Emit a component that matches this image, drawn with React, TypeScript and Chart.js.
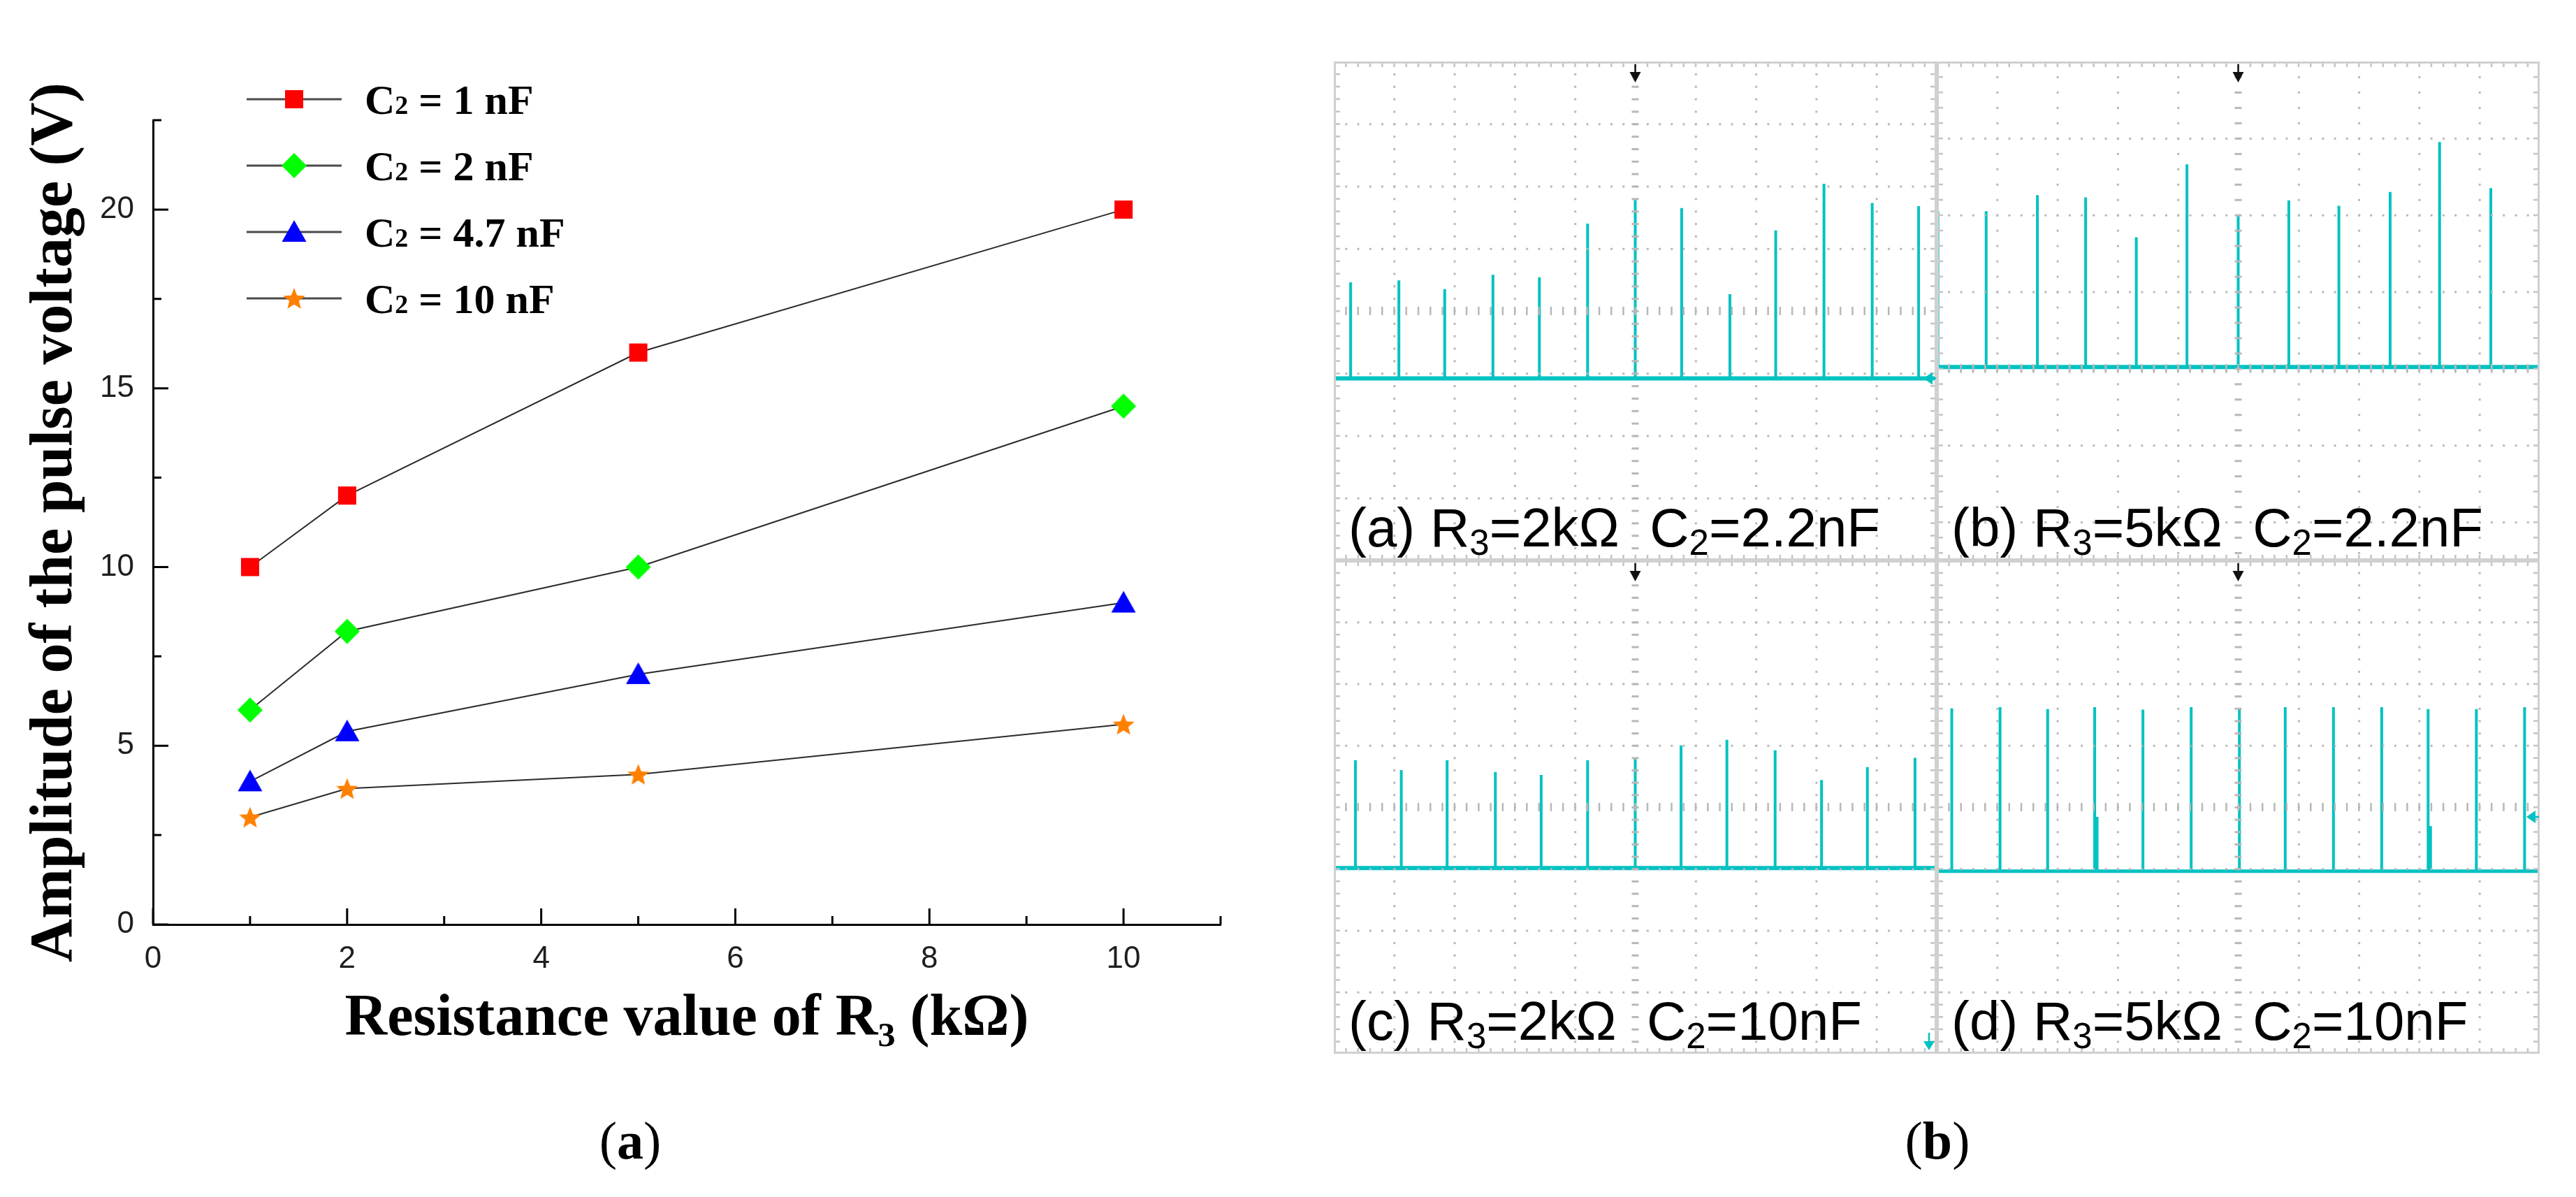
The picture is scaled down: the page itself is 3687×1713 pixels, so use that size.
import React, { useEffect, useRef } from 'react';
import { Chart, registerables } from 'chart.js';

Chart.register(...registerables);

// ---------------- (a) amplitude vs. resistance ----------------
const resistanceKOhm = [1, 2, 5, 10];
const ampC2_1nF = [10, 12, 16, 20];
const ampC2_2nF = [6, 8.2, 10, 14.5];
const ampC2_4p7nF = [4, 5.4, 7, 9];
const ampC2_10nF = [3, 3.8, 4.2, 5.6];
const seriesCapacitance = ['1 nF', '2 nF', '4.7 nF', '10 nF'];
const seriesColors = ['#FF0000', '#00FF00', '#0000FF', '#FF8000'];
const seriesMarkers = ['rect', 'rectRot', 'triangle', 'star'];
const xMajorTicks = [0, 2, 4, 6, 8, 10];
const xMinorTicks = [1, 3, 5, 7, 9, 11];
const yMajorTicks = [0, 5, 10, 15, 20];
const yMinorTicks = [2.5, 7.5, 12.5, 17.5, 22.5];
const xAxisTitle = 'Resistance value of R₃ (kΩ)';
const yAxisTitle = 'Amplitude of the pulse voltage (V)';

// ---------------- (b) oscilloscope captures (units: screen divisions) ----------------
const timesA = [0.28, 1.08, 1.84, 2.64, 3.41, 4.21, 5.0, 5.77, 6.57, 7.33, 8.13, 8.93, 9.7];
const peaksA = [4.46, 4.49, 4.35, 4.58, 4.54, 5.4, 5.78, 5.65, 4.27, 5.29, 6.04, 5.73, 5.68];
const baseA = 2.92;
const labelA = ['(a) R', '3', '=2kΩ  C', '2', '=2.2nF'];

const timesB = [0.02, 0.82, 1.67, 2.47, 3.31, 4.15, 5.0, 5.84, 6.67, 7.52, 8.34, 9.19];
const peaksB = [4.55, 4.55, 4.76, 4.73, 4.21, 5.16, 4.49, 4.69, 4.62, 4.8, 5.45, 4.85];
const baseB = 2.52;
const labelB = ['(b) R', '3', '=5kΩ  C', '2', '=2.2nF'];

const timesC = [0.36, 1.12, 1.88, 2.68, 3.44, 4.21, 5.0, 5.76, 6.52, 7.32, 8.09, 8.85, 9.64];
const peaksC = [4.76, 4.6, 4.76, 4.57, 4.52, 4.76, 4.78, 5.0, 5.09, 4.92, 4.44, 4.65, 4.8];
const baseC = 3.01;
const labelC = ['(c) R', '3', '=2kΩ  C', '2', '=10nF'];

const timesD = [0.25, 1.05, 1.84, 2.62, 2.66, 3.42, 4.22, 5.02, 5.78, 6.58, 7.38, 8.15, 8.19, 8.95, 9.75];
const peaksD = [5.6, 5.62, 5.59, 5.62, 3.84, 5.58, 5.62, 5.6, 5.62, 5.62, 5.62, 5.59, 3.69, 5.59, 5.62];
const baseD = 2.96;
const labelD = ['(d) R', '3', '=5kΩ  C', '2', '=10nF'];

const CYAN = '#00C2C2';

function drawMarkerShape(g: CanvasRenderingContext2D, style: string, x: number, y: number, color: string) {
  g.fillStyle = color;
  g.beginPath();
  if (style === 'rect') {
    g.rect(x - 13, y - 13, 26, 26);
  } else if (style === 'rectRot') {
    g.moveTo(x, y - 18);
    g.lineTo(x + 18, y);
    g.lineTo(x, y + 18);
    g.lineTo(x - 18, y);
    g.closePath();
  } else if (style === 'triangle') {
    g.moveTo(x, y - 17);
    g.lineTo(x + 17.5, y + 14);
    g.lineTo(x - 17.5, y + 14);
    g.closePath();
  } else {
    const R = 16.5;
    const r = 7.2;
    for (let k = 0; k < 10; k++) {
      const ang = -Math.PI / 2 + (k * Math.PI) / 5;
      const rad = k % 2 === 0 ? R : r;
      const px = x + rad * Math.cos(ang);
      const py = y + 1.5 + rad * Math.sin(ang);
      if (k === 0) g.moveTo(px, py);
      else g.lineTo(px, py);
    }
    g.closePath();
  }
  g.fill();
}

function makeMarkerCanvas(style: string, color: string): HTMLCanvasElement {
  const c = document.createElement('canvas');
  c.width = 44;
  c.height = 44;
  const g = c.getContext('2d')!;
  drawMarkerShape(g, style, 22, 22, color);
  return c;
}

const inwardTicksPlugin = {
  id: 'inwardTicks',
  afterDatasetsDraw(chart: any) {
    const { ctx, chartArea } = chart;
    const xs = chart.scales.x;
    const ys = chart.scales.y;
    ctx.save();
    ctx.strokeStyle = '#000';
    ctx.lineWidth = 3;
    ctx.beginPath();
    xMajorTicks.forEach((v) => {
      const px = xs.getPixelForValue(v);
      ctx.moveTo(px, chartArea.bottom);
      ctx.lineTo(px, chartArea.bottom - 23);
    });
    xMinorTicks.forEach((v) => {
      const px = xs.getPixelForValue(v);
      ctx.moveTo(px, chartArea.bottom);
      ctx.lineTo(px, chartArea.bottom - 12);
    });
    yMajorTicks.forEach((v) => {
      const py = ys.getPixelForValue(v);
      ctx.moveTo(chartArea.left, py);
      ctx.lineTo(chartArea.left + 22, py);
    });
    yMinorTicks.forEach((v) => {
      const py = ys.getPixelForValue(v);
      ctx.moveTo(chartArea.left, py);
      ctx.lineTo(chartArea.left + 12, py);
    });
    ctx.stroke();
    ctx.restore();
  },
};

const legendPlugin = {
  id: 'lineLegend',
  afterDraw(chart: any) {
    const ctx = chart.ctx;
    const x0 = 353;
    const x1 = 489;
    const mx = 421;
    const tx = 522;
    const y0 = 142;
    const dy = 95;
    chart.data.datasets.forEach((ds: any, i: number) => {
      const y = y0 + i * dy;
      ctx.save();
      ctx.strokeStyle = '#4a4a4a';
      ctx.lineWidth = 3;
      ctx.beginPath();
      ctx.moveTo(x0, y);
      ctx.lineTo(x1, y);
      ctx.stroke();
      const img = ds.pointStyle as HTMLCanvasElement;
      ctx.drawImage(img, mx - img.width / 2, y - img.height / 2);
      ctx.fillStyle = '#000';
      ctx.textAlign = 'left';
      ctx.textBaseline = 'alphabetic';
      const base = y + 21;
      ctx.font = 'bold 60px "Liberation Serif"';
      ctx.fillText('C', tx, base);
      let x = tx + ctx.measureText('C').width;
      ctx.font = 'bold 38px "Liberation Serif"';
      ctx.fillText('2', x, base);
      x += ctx.measureText('2').width;
      ctx.font = 'bold 60px "Liberation Serif"';
      ctx.fillText(' = ' + seriesCapacitance[i], x, base);
      ctx.restore();
    });
  },
};

function AmplitudeChart() {
  const ref = useRef<HTMLCanvasElement>(null);
  useEffect(() => {
    const canvas = ref.current!;
    const markers = seriesMarkers.map((m, i) => makeMarkerCanvas(m, seriesColors[i]));
    const values = [ampC2_1nF, ampC2_2nF, ampC2_4p7nF, ampC2_10nF];
    const chart = new Chart(canvas, {
      type: 'line',
      data: {
        datasets: values.map((vals, i) => ({
          label: 'C₂ = ' + seriesCapacitance[i],
          data: resistanceKOhm.map((x, j) => ({ x, y: vals[j] })),
          borderColor: '#2b2b2b',
          borderWidth: 2,
          pointStyle: markers[i] as any,
          pointRadius: 18,
          tension: 0,
        })),
      },
      options: {
        animation: false,
        responsive: false,
        devicePixelRatio: 1,
        events: [],
        layout: { padding: { top: 172, right: 113, left: 0, bottom: 0 } },
        plugins: { legend: { display: false }, tooltip: { enabled: false } },
        scales: {
          x: {
            type: 'linear',
            min: 0,
            max: 11,
            afterBuildTicks: (s: any) => {
              s.ticks = xMajorTicks.map((v) => ({ value: v }));
            },
            afterFit: (s: any) => {
              s.height = 237;
            },
            grid: { display: false, drawTicks: false },
            border: { display: true, color: '#000', width: 3 },
            ticks: {
              font: { family: 'Liberation Sans', size: 44 },
              color: '#1e1e1e',
              padding: 23,
              maxRotation: 0,
              autoSkip: false,
            },
            title: {
              display: true,
              text: xAxisTitle,
              font: { family: 'Liberation Serif', size: 84, weight: 'bold' },
              color: '#000',
              padding: { top: 0, bottom: 50 },
            },
          },
          y: {
            type: 'linear',
            min: 0,
            max: 22.5,
            afterBuildTicks: (s: any) => {
              s.ticks = yMajorTicks.map((v) => ({ value: v }));
            },
            afterFit: (s: any) => {
              s.width = 219;
            },
            grid: { display: false, drawTicks: false },
            border: { display: true, color: '#000', width: 3 },
            ticks: {
              font: { family: 'Liberation Sans', size: 44 },
              color: '#1e1e1e',
              padding: 27,
            },
            title: {
              display: true,
              text: yAxisTitle,
              font: { family: 'Liberation Serif', size: 86, weight: 'bold' },
              color: '#000',
              padding: { top: 28, bottom: 0 },
            },
          },
        },
      } as any,
      plugins: [inwardTicksPlugin, legendPlugin],
    });
    return () => chart.destroy();
  }, []);
  return (
    <canvas
      ref={ref}
      width={1860}
      height={1560}
      style={{ position: 'absolute', left: 0, top: 0, width: 1860, height: 1560 }}
    />
  );
}

type PanelCfg = {
  left: number;
  top: number;
  width: number;
  height: number;
  yMax: number;
  times: number[];
  peaks: number[];
  base: number;
  baseWidth: number;
  label: string[];
  levelArrow?: number;
  downArrow?: boolean;
};

function makeScopePlugin(cfg: PanelCfg) {
  return {
    id: 'scopeDecor',
    afterDatasetsDraw(chart: any) {
      const { ctx, chartArea } = chart;
      const { left, top, right, bottom } = chartArea;
      const xs = chart.scales.x;
      const ys = chart.scales.y;
      const yMax = cfg.yMax;
      ctx.save();
      // major grid dots
      ctx.fillStyle = '#b8b8b8';
      const centerRow = yMax - 4;
      for (let i = 1; i < 10; i++) {
        const px = xs.getPixelForValue(i);
        for (let j = 1; yMax - j * 0.2 > 0.01; j++) {
          const py = ys.getPixelForValue(yMax - j * 0.2);
          if (i === 5) ctx.fillRect(px - 5, py - 1, 10, 3);
          else ctx.fillRect(px - 1, py - 1, 3, 3);
        }
      }
      for (let k = 1; yMax - k > 0.01; k++) {
        const v = yMax - k;
        const py = ys.getPixelForValue(v);
        const isCenter = Math.abs(v - centerRow) < 0.01;
        for (let j = 1; j < 50; j++) {
          const px = xs.getPixelForValue(j * 0.2);
          if (isCenter) ctx.fillRect(px - 1, py - 6, 2.5, 12);
          else ctx.fillRect(px - 1, py - 1, 3, 3);
        }
      }
      if (Math.abs(centerRow - Math.round(centerRow)) > 0.01) {
        const py = ys.getPixelForValue(centerRow);
        for (let j = 1; j < 50; j++) {
          const px = xs.getPixelForValue(j * 0.2);
          ctx.fillRect(px - 1, py - 6, 2.5, 12);
        }
      }
      // border ticks
      ctx.fillStyle = '#c4c4c4';
      for (let j = 1; j < 50; j++) {
        const px = xs.getPixelForValue(j * 0.2);
        ctx.fillRect(px - 1, top, 2.5, 8);
        ctx.fillRect(px - 1, bottom - 8, 2.5, 8);
      }
      for (let j = 1; yMax - j * 0.2 > 0.01; j++) {
        const py = ys.getPixelForValue(yMax - j * 0.2);
        ctx.fillRect(left, py - 1, 9, 2.5);
        ctx.fillRect(right - 9, py - 1, 9, 2.5);
      }
      // border
      ctx.strokeStyle = '#d0d0d0';
      ctx.lineWidth = 3;
      ctx.strokeRect(left + 1.5, top + 1.5, right - left - 3, bottom - top - 3);
      // trigger position arrow
      const cx = xs.getPixelForValue(5);
      ctx.fillStyle = '#111';
      ctx.fillRect(cx - 1.2, top + 4, 2.5, 14);
      ctx.beginPath();
      ctx.moveTo(cx - 8, top + 15);
      ctx.lineTo(cx + 8, top + 15);
      ctx.lineTo(cx, top + 30);
      ctx.closePath();
      ctx.fill();
      // channel markers
      ctx.fillStyle = CYAN;
      if (cfg.levelArrow !== undefined) {
        const py = ys.getPixelForValue(cfg.levelArrow);
        ctx.beginPath();
        ctx.moveTo(right - 6, py - 9);
        ctx.lineTo(right - 6, py + 9);
        ctx.lineTo(right - 19, py);
        ctx.closePath();
        ctx.fill();
        ctx.fillRect(right - 8, py - 1.5, 7, 3);
      }
      if (cfg.downArrow) {
        const px = right - 11;
        ctx.fillRect(px - 1.2, bottom - 30, 2.5, 14);
        ctx.beginPath();
        ctx.moveTo(px - 8, bottom - 18);
        ctx.lineTo(px + 8, bottom - 18);
        ctx.lineTo(px, bottom - 5);
        ctx.closePath();
        ctx.fill();
      }
      // panel caption
      ctx.fillStyle = '#000';
      ctx.textAlign = 'left';
      ctx.textBaseline = 'alphabetic';
      let x = left + 21;
      const baseY = bottom - 20;
      cfg.label.forEach((seg, idx) => {
        const sub = idx % 2 === 1;
        ctx.font = sub ? '51px "Liberation Sans"' : '78px "Liberation Sans"';
        ctx.fillText(seg, x, sub ? baseY + 12 : baseY);
        x += ctx.measureText(seg).width;
      });
      ctx.restore();
    },
  };
}

function ScopePanel({ cfg }: { cfg: PanelCfg }) {
  const ref = useRef<HTMLCanvasElement>(null);
  useEffect(() => {
    const spikePts: any[] = [];
    cfg.times.forEach((t, i) => {
      spikePts.push({ x: t, y: cfg.base }, { x: t, y: cfg.peaks[i] }, { x: t, y: null });
    });
    const chart = new Chart(ref.current!, {
      type: 'line',
      data: {
        datasets: [
          {
            data: [
              { x: 0, y: cfg.base },
              { x: 10, y: cfg.base },
            ],
            borderColor: CYAN,
            borderWidth: cfg.baseWidth,
            pointRadius: 0,
            tension: 0,
          },
          {
            data: spikePts,
            borderColor: CYAN,
            borderWidth: 4,
            pointRadius: 0,
            spanGaps: false,
            tension: 0,
          },
        ],
      },
      options: {
        animation: false,
        responsive: false,
        devicePixelRatio: 1,
        events: [],
        layout: { padding: 0 },
        plugins: { legend: { display: false }, tooltip: { enabled: false } },
        scales: {
          x: { type: 'linear', min: 0, max: 10, display: false },
          y: { type: 'linear', min: 0, max: cfg.yMax, display: false },
        },
      } as any,
      plugins: [makeScopePlugin(cfg)],
    });
    return () => chart.destroy();
  }, []);
  return (
    <canvas
      ref={ref}
      width={cfg.width}
      height={cfg.height}
      style={{ position: 'absolute', left: cfg.left, top: cfg.top, width: cfg.width, height: cfg.height }}
    />
  );
}

const panels: PanelCfg[] = [
  { left: 1909, top: 88, width: 863, height: 714, yMax: 8, times: timesA, peaks: peaksA, base: baseA, baseWidth: 6, label: labelA, levelArrow: baseA },
  { left: 2772, top: 88, width: 863, height: 714, yMax: 6.5, times: timesB, peaks: peaksB, base: baseB, baseWidth: 6, label: labelB },
  { left: 1909, top: 802, width: 863, height: 706, yMax: 8, times: timesC, peaks: peaksC, base: baseC, baseWidth: 6, label: labelC, downArrow: true },
  { left: 2772, top: 802, width: 863, height: 706, yMax: 8, times: timesD, peaks: peaksD, base: baseD, baseWidth: 5, label: labelD, levelArrow: 3.84 },
];

export default function App() {
  return (
    <div
      style={{
        position: 'fixed',
        left: 0,
        top: 0,
        width: 3687,
        height: 1713,
        background: '#fff',
        overflow: 'hidden',
      }}
    >
      <AmplitudeChart />
      {panels.map((p, i) => (
        <ScopePanel key={i} cfg={p} />
      ))}
      <div
        style={{
          position: 'absolute',
          left: 902 - 150,
          top: 1587,
          width: 300,
          textAlign: 'center',
          fontFamily: '"Liberation Serif"',
          fontSize: 76,
          lineHeight: '90px',
          color: '#000',
        }}
      >
        (<b>a</b>)
      </div>
      <div
        style={{
          position: 'absolute',
          left: 2773 - 150,
          top: 1587,
          width: 300,
          textAlign: 'center',
          fontFamily: '"Liberation Serif"',
          fontSize: 76,
          lineHeight: '90px',
          color: '#000',
        }}
      >
        (<b>b</b>)
      </div>
    </div>
  );
}
